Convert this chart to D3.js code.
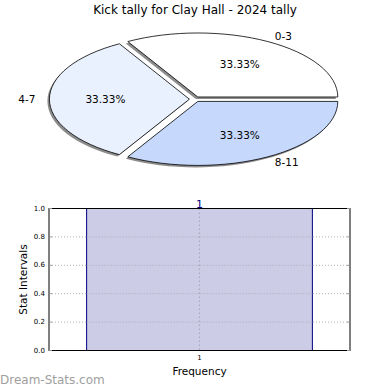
<!DOCTYPE html>
<html><head><meta charset="utf-8">
<script src="https://cdn.jsdelivr.net/npm/d3@7"></script>
<style>body{margin:0;background:#fff}svg{display:block;font-family:"DejaVu Sans",sans-serif}</style>
</head><body>
<script>
const title = "Kick tally for Clay Hall - 2024 tally";
const pieLabels = ["0-3", "4-7", "8-11"];
const pieValues = [1, 1, 1];
const pieColors = ["#ffffff", "#eaf1fe", "#c6d9fd"];
const barCategories = [1];
const barValues = [1];
const yTicks = [0, 0.2, 0.4, 0.6, 0.8, 1.0];

const W = 390, H = 390;
const svg = d3.select("body").append("svg").attr("width", W).attr("height", H);

svg.append("text").attr("x", 195).attr("y", 10).attr("text-anchor", "middle")
  .attr("dominant-baseline", "central").attr("font-size", 12).attr("fill", "#000").text(title);

// ---- Pie (elliptical) ----
const cx = 195, cy = 99.2, rx = 140, ry = 64, explode = 0.04;
const total = d3.sum(pieValues);
const pie = d3.pie().sort(null).startAngle(Math.PI / 2).endAngle(Math.PI / 2 - 2 * Math.PI);
const arcs = pie(pieValues);
const arcGen = d3.arc().innerRadius(0).outerRadius(1);
const pg = svg.append("g");

function slicePos(a) {
  const m = (a.startAngle + a.endAngle) / 2;
  return {m, dx: Math.sin(m) * explode * rx, dy: -Math.cos(m) * explode * ry};
}
// shadows
arcs.forEach((a, i) => {
  const p = slicePos(a);
  pg.append("path")
    .attr("d", arcGen(a))
    .attr("transform", `translate(${cx + p.dx - 2},${cy + p.dy + 2}) scale(${rx},${ry})`)
    .attr("fill", "#000").attr("fill-opacity", 0.45).attr("stroke", "none");
});
arcs.forEach((a, i) => {
  const p = slicePos(a);
  pg.append("path")
    .attr("d", arcGen(a))
    .attr("transform", `translate(${cx + p.dx},${cy + p.dy}) scale(${rx},${ry})`)
    .attr("fill", pieColors[i]).attr("stroke", "#000").attr("stroke-width", 0.8)
    .attr("vector-effect", "non-scaling-stroke").attr("stroke-linejoin", "round");
});
arcs.forEach((a, i) => {
  const p = slicePos(a);
  const ox = cx + p.dx, oy = cy + p.dy;
  const sx = Math.sin(p.m), sy = -Math.cos(p.m);
  const lx = ox + 1.1 * rx * sx, ly = oy + 1.1 * ry * sy;
  pg.append("text").attr("x", lx).attr("y", ly)
    .attr("text-anchor", sx > 0.001 ? "start" : (sx < -0.001 ? "end" : "middle"))
    .attr("dominant-baseline", "central").attr("font-size", 10.5).text(pieLabels[i]);
  const pct = (pieValues[i] / total * 100).toFixed(2) + "%";
  pg.append("text").attr("x", ox + 0.6 * rx * sx).attr("y", oy + 0.6 * ry * sy)
    .attr("text-anchor", "middle").attr("dominant-baseline", "central")
    .attr("font-size", 10.5).text(pct);
});

// ---- Bar chart ----
const L = 49, R = 350, T = 208.5, B = 350.5;
const x = d3.scaleLinear().domain([0.4667, 1.5333]).range([L, R]);
const y = d3.scaleLinear().domain([0, 1]).range([B, T]);
const bg = svg.append("g");
const barW = 0.8;
// grid
bg.selectAll(".gy").data(yTicks).join("line")
  .attr("x1", L).attr("x2", R).attr("y1", d => y(d)).attr("y2", d => y(d))
  .attr("stroke", "#b0b0b0").attr("stroke-dasharray", "1,2");
// bars
bg.selectAll(".bar").data(barValues).join("rect")
  .attr("x", (d, i) => x(barCategories[i] - barW / 2))
  .attr("width", (d, i) => x(barCategories[i] + barW / 2) - x(barCategories[i] - barW / 2))
  .attr("y", d => y(d)).attr("height", d => y(0) - y(d))
  .attr("fill", "#ccccе6".replace("е", "e")).attr("stroke", "#000080").attr("stroke-width", 1);
// grid on top (vertical)
bg.selectAll(".gx").data(barCategories).join("line")
  .attr("x1", d => x(d)).attr("x2", d => x(d)).attr("y1", T).attr("y2", B)
  .attr("stroke", "#a8a8b8").attr("stroke-width", 1.2).attr("stroke-dasharray", "1.5,2.5");
bg.selectAll(".gy2").data(yTicks).join("line")
  .attr("x1", (d) => x(barCategories[0] - barW / 2)).attr("x2", d => x(barCategories[0] + barW / 2))
  .attr("y1", d => y(d)).attr("y2", d => y(d))
  .attr("stroke", "#a8a8b8").attr("stroke-dasharray", "1,2");
// frame
bg.append("rect").attr("x", L).attr("y", T).attr("width", R - L).attr("height", B - T)
  .attr("fill", "none").attr("stroke", "#000").attr("stroke-width", 1);
// y axis tick labels
bg.selectAll(".yt").data(yTicks).join("text")
  .attr("x", L - 4).attr("y", d => y(d)).attr("text-anchor", "end")
  .attr("dominant-baseline", "central").attr("font-size", 7).text(d => d.toFixed(1));
// tick marks (small gray)
bg.selectAll(".ytm").data(yTicks).join("line")
  .attr("x1", L).attr("x2", L + 3).attr("y1", d => y(d)).attr("y2", d => y(d)).attr("stroke", "#999");
bg.selectAll(".ytm2").data(yTicks).join("line")
  .attr("x1", R - 3).attr("x2", R).attr("y1", d => y(d)).attr("y2", d => y(d)).attr("stroke", "#999");
// x tick label
bg.selectAll(".xt").data(barCategories).join("text")
  .attr("x", d => x(d)).attr("y", B + 7).attr("text-anchor", "middle")
  .attr("dominant-baseline", "central").attr("font-size", 7).text(d => d);
// value labels
bg.selectAll(".vl").data(barValues).join("text")
  .attr("x", (d, i) => x(barCategories[i])).attr("y", d => y(d) - 4)
  .attr("text-anchor", "middle").attr("dominant-baseline", "central")
  .attr("font-size", 11).attr("fill", "#000080").text(d => d);
// axis labels
svg.append("text").attr("x", x(1)).attr("y", B + 20).attr("text-anchor", "middle")
  .attr("dominant-baseline", "central").attr("font-size", 10.5).text("Frequency");
svg.append("text").attr("transform", `translate(23,${(T + B) / 2}) rotate(-90)`)
  .attr("text-anchor", "middle").attr("dominant-baseline", "central")
  .attr("font-size", 10.5).text("Stat Intervals");
// watermark
svg.append("text").attr("x", 0).attr("y", 380).attr("dominant-baseline", "central")
  .attr("font-size", 12).attr("fill", "#a0a0a0").text("Dream-Stats.com");
</script>
</body></html>
